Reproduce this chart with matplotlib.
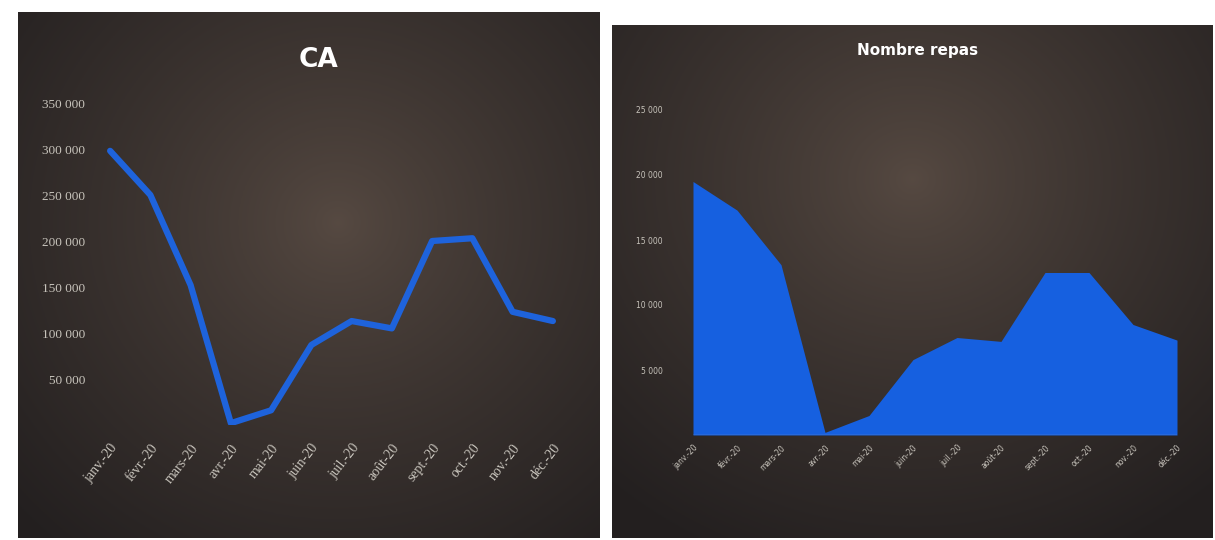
import numpy as np
import matplotlib.pyplot as plt

mois = ['janv.-20', 'févr.-20', 'mars-20', 'avr.-20', 'mai-20', 'juin-20',
        'juil.-20', 'août-20', 'sept.-20', 'oct.-20', 'nov.-20', 'déc.-20']
ca = [298000, 250000, 152000, 2000, 16000, 87000,
      113000, 105000, 200000, 203000, 123000, 113000]
repas = [19500, 17300, 13100, 200, 1500, 5800,
         7500, 7200, 12500, 12500, 8500, 7300]

W, H = 1215, 540
fig = plt.figure(figsize=(W / 100, H / 100), dpi=100)
fig.patch.set_facecolor('white')


def rect(x0, y0, x1, y1):
    return [x0 / W, 1 - y1 / H, (x1 - x0) / W, (y1 - y0) / H]


def fond(box, cx, cy):
    # fond sombre avec halo brun au centre
    bg = fig.add_axes(rect(*box))
    bg.set_axis_off()
    ny, nx = 200, 300
    xx, yy = np.meshgrid(np.linspace(0, 1, nx), np.linspace(0, 1, ny))
    d = np.sqrt(((xx - cx) / 0.75) ** 2 + ((yy - cy) / 0.8) ** 2)
    t = np.clip(d, 0, 1) ** 0.8
    centre = np.array([0.34, 0.29, 0.26])
    bord = np.array([0.14, 0.125, 0.125])
    img = centre * (1 - t[..., None]) + bord * t[..., None]
    bg.imshow(img, extent=[0, 1, 0, 1], aspect='auto', origin='upper')
    return bg


def style(ax):
    ax.set_facecolor('none')
    for s in ax.spines.values():
        s.set_visible(False)
    ax.tick_params(length=0, colors='#c8c4bc')


fond((18, 12, 600, 538), 0.55, 0.4)
fond((612, 25, 1212, 538), 0.5, 0.3)

# CA
ax1 = fig.add_axes(rect(90, 103, 573, 425))
style(ax1)
x = np.arange(len(mois))
ax1.plot(x, ca, color='#1e63dc', linewidth=4.5, solid_capstyle='round')
ax1.set_xlim(-0.5, len(mois) - 0.5)
ax1.set_ylim(0, 350000)
yt = [50000, 100000, 150000, 200000, 250000, 300000, 350000]
ax1.set_yticks(yt)
ax1.set_yticklabels([f'{v:,}'.replace(',', ' ') for v in yt], fontsize=9.5,
                    fontfamily='Liberation Serif')
ax1.set_xticks(x)
ax1.set_xticklabels(mois, rotation=52, ha='right', rotation_mode='anchor', fontsize=10,
                    fontfamily='Liberation Serif')
ax1.tick_params(axis='x', pad=12)
fig.text(318 / W, 1 - 60 / H, 'CA', color='white', fontsize=19, fontweight='bold',
         ha='center', va='center')

# Nombre repas
ax2 = fig.add_axes(rect(693, 110, 1177, 435))
style(ax2)
ax2.fill_between(x, repas, 0, color='#1660e0', linewidth=0)
ax2.axhline(0, color='#6f8fc8', linewidth=1)
ax2.set_xlim(0, len(mois) - 1)
ax2.set_ylim(0, 25000)
yt2 = [5000, 10000, 15000, 20000, 25000]
ax2.set_yticks(yt2)
ax2.set_yticklabels([f'{v:,}'.replace(',', ' ') for v in yt2], fontsize=5.5)
ax2.tick_params(axis='y', pad=22)
ax2.set_xticks(x)
ax2.set_xticklabels(mois, rotation=45, ha='right', rotation_mode='anchor', fontsize=5.5)
ax2.tick_params(axis='x', pad=6)
fig.text(918 / W, 1 - 50 / H, 'Nombre repas', color='white', fontsize=11, fontweight='bold',
         ha='center', va='center')

fig.savefig('out.png', dpi=100, facecolor='white')
